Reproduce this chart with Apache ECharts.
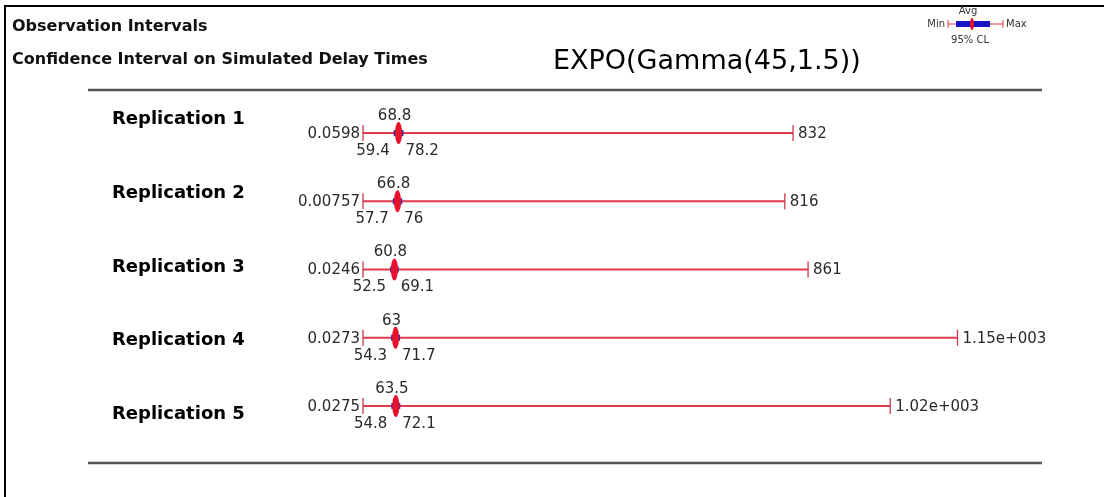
<!DOCTYPE html>
<html>
<head>
<meta charset="utf-8">
<script src="https://cdn.jsdelivr.net/npm/echarts@6/dist/echarts.min.js"></script>
<style>
  html, body { margin: 0; padding: 0; background: #fff; }
  #main { width: 1104px; height: 497px; }
</style>
</head>
<body>
<div id="main"></div>
<script>
// data
var replications = ['Replication 1', 'Replication 2', 'Replication 3', 'Replication 4', 'Replication 5'];
var minVals  = [0.0598, 0.00757, 0.0246, 0.0273, 0.0275];
var ciLow    = [59.4, 57.7, 52.5, 54.3, 54.8];
var avgVals  = [68.8, 66.8, 60.8, 63, 63.5];
var ciHigh   = [78.2, 76, 69.1, 71.7, 72.1];
var maxVals  = [832, 816, 861, 1150, 1020];

// like printf %.3g
function fmt(v) {
    if (v >= 1000) {
        var s = v.toExponential(2);
        var p = s.split('e');
        var ex = p[1].replace('+', '');
        while (ex.length < 3) ex = '0' + ex;
        return p[0] + 'e+' + ex;
    }
    return String(parseFloat(v.toPrecision(3)));
}

var rows = [];
for (var i = 0; i < replications.length; i++) {
    rows.push([minVals[i], ciLow[i], avgVals[i], ciHigh[i], maxVals[i], i]);
}

var lineColor = '#e23a4c';
var numFont = 'DejaVu Sans';

function renderRow(params, api) {
    var idx = api.value(5);
    var y = api.coord([0, idx])[1];
    var xMin = api.coord([api.value(0), idx])[0];
    var xLo = api.coord([api.value(1), idx])[0];
    var xAvg = api.coord([api.value(2), idx])[0];
    var xHi = api.coord([api.value(3), idx])[0];
    var xMax = api.coord([api.value(4), idx])[0];
    var txt = function (x, yy, s, align) {
        return {
            type: 'text', x: x, y: yy,
            style: { text: s, fill: '#2a2a2a', fontSize: 15, fontFamily: numFont, align: align, verticalAlign: 'middle' }
        };
    };
    return {
        type: 'group',
        children: [
            { type: 'line', shape: { x1: xMin, y1: y, x2: xMax, y2: y }, style: { stroke: lineColor, lineWidth: 2 } },
            { type: 'line', shape: { x1: xMin, y1: y - 8, x2: xMin, y2: y + 8 }, style: { stroke: '#c83a4c', lineWidth: 1.3 } },
            { type: 'line', shape: { x1: xMax, y1: y - 8, x2: xMax, y2: y + 8 }, style: { stroke: '#c83a4c', lineWidth: 1.3 } },
            { type: 'rect', shape: { x: xLo, y: y - 3, width: xHi - xLo, height: 6 }, style: { fill: '#2a2a9a' } },
            { type: 'ellipse', shape: { cx: xAvg, cy: y, rx: 3.5, ry: 11 }, style: { fill: '#e8102c' } },
            txt(xMin - 3, y + 1, fmt(api.value(0)), 'right'),
            txt(xMax + 5, y + 1, fmt(api.value(4)), 'left'),
            txt(xAvg - 4, y - 17, fmt(api.value(2)), 'center'),
            txt(xLo - 4, y + 18, fmt(api.value(1)), 'right'),
            txt(xHi + 2, y + 18, fmt(api.value(3)), 'left')
        ]
    };
}

var dom = document.getElementById('main');
var myChart = echarts.init(dom);

var option = {
    backgroundColor: '#fff',
    animation: false,
    grid: [
        { left: 363, right: 69, top: 99, bottom: 57 },
        { left: 112, width: 200, top: 83, bottom: 46 }
    ],
    xAxis: [
        { gridIndex: 0, type: 'value', min: 0, max: 1300, show: false },
        { gridIndex: 1, type: 'value', min: 0, max: 1, show: false }
    ],
    yAxis: [
        { gridIndex: 0, type: 'category', data: replications, inverse: true, show: false },
        {
            gridIndex: 1, type: 'category', data: replications, inverse: true,
            axisLine: { show: false }, axisTick: { show: false }, splitLine: { show: false },
            axisLabel: { inside: true, margin: 0, fontSize: 18, fontWeight: 'bold', fontFamily: 'DejaVu Sans', color: '#000' }
        }
    ],
    graphic: [
        // frame
        { type: 'line', shape: { x1: 4, y1: 6, x2: 1104, y2: 6 }, style: { stroke: '#000', lineWidth: 2 } },
        { type: 'line', shape: { x1: 5, y1: 6, x2: 5, y2: 497 }, style: { stroke: '#000', lineWidth: 2 } },
        // separators
        { type: 'line', shape: { x1: 88, y1: 90, x2: 1042, y2: 90 }, style: { stroke: '#555', lineWidth: 2.5 } },
        { type: 'line', shape: { x1: 88, y1: 463, x2: 1042, y2: 463 }, style: { stroke: '#555', lineWidth: 2.5 } },
        // titles
        { type: 'text', x: 12, y: 27, style: { text: 'Observation Intervals', fill: '#111', fontSize: 16, fontWeight: 'bold', fontFamily: 'DejaVu Sans', verticalAlign: 'middle' } },
        { type: 'text', x: 12, y: 60, style: { text: 'Confidence Interval on Simulated Delay Times', fill: '#111', fontSize: 16, fontWeight: 'bold', fontFamily: 'DejaVu Sans', verticalAlign: 'middle' } },
        { type: 'text', x: 553, y: 62, style: { text: 'EXPO(Gamma(45,1.5))', fill: '#000', fontSize: 27, fontFamily: 'DejaVu Sans', verticalAlign: 'middle' } },
        // key in the corner
        { type: 'text', x: 968, y: 11, style: { text: 'Avg', fill: '#333', fontSize: 10, fontFamily: 'DejaVu Sans', align: 'center', verticalAlign: 'middle' } },
        { type: 'text', x: 945, y: 24, style: { text: 'Min', fill: '#333', fontSize: 10, fontFamily: 'DejaVu Sans', align: 'right', verticalAlign: 'middle' } },
        { type: 'line', shape: { x1: 948, y1: 24, x2: 1003, y2: 24 }, style: { stroke: lineColor, lineWidth: 1 } },
        { type: 'line', shape: { x1: 948, y1: 20, x2: 948, y2: 28 }, style: { stroke: lineColor, lineWidth: 1 } },
        { type: 'line', shape: { x1: 1003, y1: 20, x2: 1003, y2: 28 }, style: { stroke: lineColor, lineWidth: 1 } },
        { type: 'rect', shape: { x: 956, y: 21, width: 34, height: 6 }, style: { fill: '#1515c8' } },
        { type: 'ellipse', shape: { cx: 972, cy: 24, rx: 2, ry: 6 }, style: { fill: '#e8102c' } },
        { type: 'text', x: 1006, y: 24, style: { text: 'Max', fill: '#333', fontSize: 10, fontFamily: 'DejaVu Sans', verticalAlign: 'middle' } },
        { type: 'text', x: 970, y: 40, style: { text: '95% CL', fill: '#333', fontSize: 10, fontFamily: 'DejaVu Sans', align: 'center', verticalAlign: 'middle' } }
    ],
    series: [
        {
            type: 'custom',
            xAxisIndex: 0,
            yAxisIndex: 0,
            renderItem: renderRow,
            encode: { x: [0, 1, 2, 3, 4], y: 5 },
            data: rows
        }
    ]
};

myChart.setOption(option, true);
</script>
</body>
</html>
